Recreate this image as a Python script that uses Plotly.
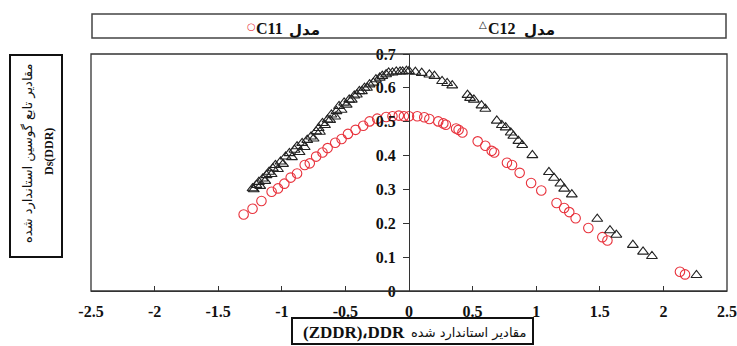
import plotly.graph_objects as go

# ---- data ----
c11_x = [-1.30, -1.23, -1.16, -1.08, -1.03, -0.98, -0.93, -0.88, -0.82, -0.78,
         -0.73, -0.68, -0.64, -0.58, -0.53, -0.48, -0.42, -0.36, -0.31, -0.25,
         -0.18, -0.13, -0.08, -0.04, 0.00, 0.065, 0.12, 0.16, 0.23, 0.27,
         0.29, 0.37, 0.39, 0.42, 0.54, 0.60, 0.65, 0.67, 0.77, 0.81,
         0.87, 0.96, 1.04, 1.16, 1.22, 1.26, 1.31, 1.41, 1.52, 1.56,
         2.13, 2.17]
c11_y = [0.226, 0.243, 0.266, 0.293, 0.303, 0.317, 0.335, 0.347, 0.372, 0.377,
         0.397, 0.409, 0.422, 0.438, 0.449, 0.464, 0.476, 0.488, 0.501, 0.509,
         0.514, 0.516, 0.518, 0.516, 0.516, 0.516, 0.513, 0.508, 0.501, 0.495,
         0.491, 0.480, 0.476, 0.468, 0.442, 0.429, 0.414, 0.409, 0.379, 0.372,
         0.349, 0.319, 0.297, 0.260, 0.245, 0.233, 0.215, 0.186, 0.159, 0.149,
         0.057, 0.049]

c12_x = [-1.23, -1.20, -1.18, -1.15, -1.12, -1.10, -1.07, -1.05, -1.01, -0.97,
         -0.94, -0.90, -0.88, -0.84, -0.80, -0.77, -0.73, -0.71, -0.68, -0.64,
         -0.61, -0.57, -0.55, -0.51, -0.47, -0.43, -0.39, -0.35, -0.31, -0.26,
         -0.21, -0.16, -0.10, -0.05,
         -1.22, -1.17, -1.13, -1.08, -1.03, -0.99, -0.92, -0.86, -0.82, -0.75,
         -0.70, -0.66, -0.62, -0.58, -0.53, -0.49, -0.45, -0.41, -0.37, -0.33,
         -0.28, -0.23, -0.18, -0.13, -0.07, -0.02,
         0.00, 0.05, 0.10, 0.16, 0.20, 0.26, 0.30, 0.34, 0.46, 0.48,
         0.51, 0.57, 0.60, 0.69, 0.73, 0.76, 0.80, 0.82, 0.86, 0.89,
         0.97, 1.10, 1.14, 1.19, 1.22, 1.28, 1.48, 1.58, 1.63, 1.76,
         1.84, 1.91, 2.26]
c12_y = [0.303, 0.313, 0.322, 0.332, 0.342, 0.352, 0.362, 0.372, 0.382, 0.397,
         0.407, 0.417, 0.427, 0.437, 0.446, 0.456, 0.471, 0.481, 0.496, 0.506,
         0.521, 0.531, 0.546, 0.556, 0.565, 0.577, 0.590, 0.600, 0.610, 0.625,
         0.635, 0.645, 0.648, 0.648,
         0.300, 0.310, 0.325, 0.345, 0.360, 0.375, 0.395, 0.410, 0.425, 0.450,
         0.470, 0.490, 0.505, 0.515, 0.535, 0.550, 0.565, 0.580, 0.590, 0.600,
         0.615, 0.630, 0.640, 0.645, 0.648, 0.650,
         0.649, 0.647, 0.644, 0.639, 0.635, 0.620, 0.614, 0.607, 0.579, 0.570,
         0.565, 0.548, 0.538, 0.503, 0.490, 0.483, 0.468, 0.458, 0.443, 0.431,
         0.401, 0.351, 0.334, 0.317, 0.302, 0.285, 0.213, 0.179, 0.166, 0.136,
         0.116, 0.103, 0.047]

x_ticks = [-2.5, -2, -1.5, -1, -0.5, 0, 0.5, 1, 1.5, 2, 2.5]
x_tick_text = ["-2.5", "-2", "-1.5", "-1", "-0.5", "0", "0.5", "1", "1.5", "2", "2.5"]
y_ticks = [0, 0.1, 0.2, 0.3, 0.4, 0.5, 0.6, 0.7]
y_tick_text = ["0", "0.1", "0.2", "0.3", "0.4", "0.5", "0.6", "0.7"]

series_names = ["C11", "C12"]
model_word = "مدل"
x_title_latin = "(ZDDR)،DDR"
x_title_arabic = "مقادیر استاندارد شده"
y_title_arabic = "مقادیر تابع گوسین استاندارد شده"
y_title_latin = "Ds(DDR)"

# ---- layout geometry (pixels) ----
W, H = 737, 346
L, R, T, B = 91, 727, 54, 291


def px(x):
    return (x - L) / (R - L)


def py(y):
    return (B - y) / (B - T)


SERIF = "Liberation Serif, Times New Roman, serif"
ARAB = "DejaVu Sans, sans-serif"
RED = "#e8323c"
INK = "#222222"
TXT = "#111111"

fig = go.Figure()
fig.add_trace(go.Scatter(
    x=c11_x, y=c11_y, mode="markers", name=series_names[0],
    marker=dict(symbol="circle-open", size=9.5, color=RED, line=dict(width=1.1, color=RED)),
))
fig.add_trace(go.Scatter(
    x=c12_x, y=c12_y, mode="markers", name=series_names[1],
    marker=dict(symbol="triangle-up-open", size=9.5, color=INK, line=dict(width=1.1, color=INK)),
))

shapes = [
    dict(type="rect", xref="paper", yref="paper", x0=0, x1=1, y0=0, y1=1,
         line=dict(color="#333333", width=1.3)),
    dict(type="rect", xref="paper", yref="paper", x0=px(92), x1=px(726), y0=py(38), y1=py(14),
         line=dict(color="#444444", width=1.5)),
    dict(type="rect", xref="paper", yref="paper", x0=px(10), x1=px(62), y0=py(257), y1=py(55),
         line=dict(color="#111111", width=2)),
    dict(type="rect", xref="paper", yref="paper", x0=px(292), x1=px(533), y0=py(344), y1=py(318),
         line=dict(color="#111111", width=2)),
]


def ann(x, y, text, size, family, color=TXT, bold=False, angle=0, xanchor="center"):
    return dict(xref="paper", yref="paper", x=px(x), y=py(y),
                text=("<b>%s</b>" % text) if bold else text, showarrow=False,
                textangle=angle, xanchor=xanchor, yanchor="middle",
                font=dict(size=size, color=color, family=family))


annotations = [
    ann(251, 26, "○", 10, "DejaVu Sans", color=RED),
    ann(269, 29, series_names[0], 16, SERIF, bold=True),
    ann(304, 30, model_word, 15, ARAB, bold=True),
    ann(483, 25, "△", 10, "DejaVu Sans"),
    ann(502, 29, series_names[1], 16, SERIF, bold=True),
    ann(539, 30, model_word, 15, ARAB, bold=True),
    ann(354, 332, x_title_latin, 17, SERIF, bold=True),
    ann(468, 333, x_title_arabic, 13, ARAB),
    ann(28, 153, y_title_arabic, 13, ARAB, angle=-90),
    ann(49, 152, y_title_latin, 12, SERIF, bold=True, angle=-90),
]

fig.update_layout(
    width=W, height=H,
    margin=dict(l=L, r=W - R, t=T, b=H - B, pad=0, autoexpand=False),
    paper_bgcolor="white", plot_bgcolor="white",
    showlegend=False,
    shapes=shapes, annotations=annotations,
    xaxis=dict(
        range=[-2.5, 2.5], tickvals=x_ticks, ticktext=x_tick_text, automargin=False,
        showgrid=False, zeroline=False, showline=True, linecolor="#333333", linewidth=1.3,
        ticks="inside", ticklen=5, tickcolor="#333333", tickwidth=1,
        ticklabelstandoff=6,
        tickfont=dict(family=SERIF, size=16, color=TXT, weight="bold"),
    ),
    yaxis=dict(
        range=[0, 0.7], tickvals=y_ticks, ticktext=y_tick_text, automargin=False,
        anchor="free", position=0.5,
        showgrid=False, zeroline=False, showline=True, linecolor="#333333", linewidth=1.3,
        ticks="outside", ticklen=6, tickcolor="#333333", tickwidth=1,
        ticklabelstandoff=4,
        tickfont=dict(family=SERIF, size=16, color=TXT, weight="bold"),
    ),
)

fig.write_html("out.html", config={"displayModeBar": False},
               post_script="document.body.style.margin='0px';")
